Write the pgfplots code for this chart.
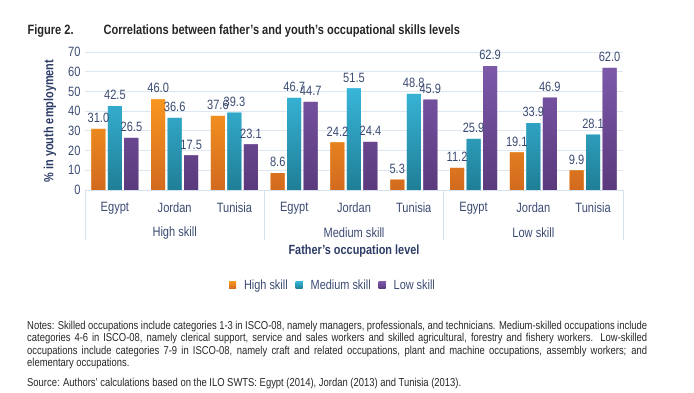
\documentclass[border=0pt]{standalone}
\usepackage{fontspec}
\setmainfont{Liberation Sans}[FakeStretch=0.82]
\usepackage{pgfplots}
\pgfplotsset{compat=1.18}
\definecolor{oTop}{HTML}{F8961F}
\definecolor{oBot}{HTML}{D26A1F}
\definecolor{tTop}{HTML}{38B5D8}
\definecolor{tBot}{HTML}{1F7E96}
\definecolor{pTop}{HTML}{7D59AA}
\definecolor{pBot}{HTML}{5A3A7C}
\definecolor{txt}{HTML}{3A4A72}
\definecolor{lab}{HTML}{2C3C66}
\definecolor{gridc}{HTML}{DCE7F2}
\definecolor{axc}{HTML}{D5E1EE}
\begin{document}
\begin{tikzpicture}[x=1pt,y=1pt]
\path[use as bounding box] (0,0) rectangle (694,393);
% title
\node[anchor=base west,font=\fontsize{13.5}{15}\selectfont\bfseries,text=black!85] at (24,358) {Figure 2.};
\node[anchor=base west,font=\fontsize{13.5}{15}\selectfont\bfseries,text=black!85] at (100,358) {Correlations between father's and youth's occupational skills levels};
% y label
\node[rotate=90,font=\fontsize{13.3}{15}\selectfont\bfseries,text=lab] at (50,272) {\% in youth employment};
\begin{axis}[
  at={(85pt,203pt)}, anchor=south west,
  scale only axis, width=538pt, height=138pt,
  ymin=0, ymax=70, ytick={0,10,...,70},
  xmin=-0.5, xmax=8.5,
  xtick={0,...,8},
  xticklabels={Egypt,Jordan,Tunisia,Egypt,Jordan,Tunisia,Egypt,Jordan,Tunisia},
  major tick length=0pt,
  ymajorgrids, grid style={gridc, line width=0.9pt},
  axis lines*=left,
  y axis line style={draw=none},
  x axis line style={draw=axc, line width=0.9pt, -},
  tick label style={font=\fontsize{13.5}{15}\selectfont, text=txt},
  xticklabel style={yshift=-9pt},
  yticklabel style={xshift=-1pt},
  /pgf/number format/assume math mode=true,
  ybar=2.5pt, bar width=14pt,
  clip=false,
  nodes near coords={\pgfmathprintnumber[fixed,fixed zerofill,precision=1]{\pgfplotspointmeta}},
  every node near coord/.append style={font=\fontsize{13.5}{15}\selectfont, text=txt, inner sep=2pt, yshift=4pt},
  legend style={at={(0.461,-0.688)}, anchor=center, draw=none, legend columns=3,
    font=\fontsize{13.3}{15}\selectfont, text=txt, column sep=6pt, fill=none},
  legend image code/.code={\fill[#1] (0pt,-3.5pt) rectangle (7pt,3.5pt);},
]
\addplot[draw=none, top color=oTop, bottom color=oBot, fill=oTop] coordinates {(0,31.0) (1,46.0) (2,37.6) (3,8.6) (4,24.2) (5,5.3) (6,11.2) (7,19.1) (8,9.9)};
\addplot[draw=none, top color=tTop, bottom color=tBot, fill=tTop] coordinates {(0,42.5) (1,36.6) (2,39.3) (3,46.7) (4,51.5) (5,48.8) (6,25.9) (7,33.9) (8,28.1)};
\addplot[draw=none, top color=pTop, bottom color=pBot, fill=pTop] coordinates {(0,26.5) (1,17.5) (2,23.1) (3,44.7) (4,24.4) (5,45.9) (6,62.9) (7,46.9) (8,62.0)};
\legend{High skill, Medium skill, Low skill}
\draw[axc, line width=0.9pt] (axis cs:-0.5,0) -- ([yshift=-50pt]axis cs:-0.5,0);
\draw[axc, line width=0.9pt] (axis cs:2.5,0) -- ([yshift=-50pt]axis cs:2.5,0);
\draw[axc, line width=0.9pt] (axis cs:5.5,0) -- ([yshift=-50pt]axis cs:5.5,0);
\draw[axc, line width=0.9pt] (axis cs:8.5,0) -- ([yshift=-50pt]axis cs:8.5,0);
\node[font=\fontsize{13.5}{15}\selectfont, text=txt] at ([yshift=-43pt]axis cs:1,0) {High skill};
\node[font=\fontsize{13.5}{15}\selectfont, text=txt] at ([yshift=-43pt]axis cs:4,0) {Medium skill};
\node[font=\fontsize{13.5}{15}\selectfont, text=txt] at ([yshift=-43pt]axis cs:7,0) {Low skill};
\node[font=\fontsize{13.3}{15}\selectfont\bfseries, text=lab] at ([yshift=-61pt]axis cs:4,0) {Father's occupation level};
\end{axis}
% notes
\node[anchor=north west, text width=620pt, align=justify, font=\fontsize{11.5}{12.4}\selectfont, text=black!85, inner sep=0pt] at (27,72) {\hyphenpenalty=10000 Notes: Skilled occupations include categories 1-3 in ISCO-08, namely managers, professionals, and technicians. Medium-skilled occupations include\linebreak categories 4-6 in ISCO-08, namely clerical support, service and sales workers and skilled agricultural, forestry and fishery workers. Low-skilled\linebreak occupations include categories 7-9 in ISCO-08, namely craft and related occupations, plant and machine occupations, assembly workers; and\linebreak elementary occupations.\par};
\node[anchor=north west, font=\fontsize{11.5}{12.4}\selectfont, text=black!85, inner sep=0pt] at (27,15) {Source: Authors' calculations based on the ILO SWTS: Egypt (2014), Jordan (2013) and Tunisia (2013).};
\end{tikzpicture}
\end{document}
